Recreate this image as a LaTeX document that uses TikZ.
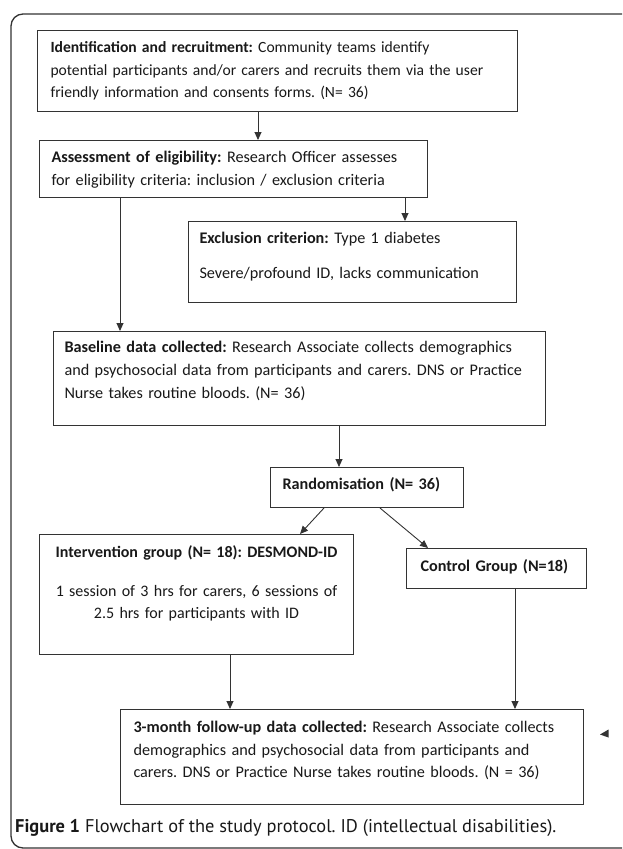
\documentclass[tikz,border=0pt]{standalone}
\usepackage{fontspec}
\setmainfont{Carlito}
\newfontfamily\capfont{PT Sans}
\usetikzlibrary{arrows.meta}
\definecolor{boxline}{gray}{0.2}
\frenchspacing
\begin{document}
\begin{tikzpicture}[x=1pt,y=1pt,
		stage/.style={draw=boxline, line width=1pt, anchor=north west, inner ysep=0pt, align=left, text=black!90, font=\fontsize{16.2}{23}\selectfont},
		flow/.style={draw=boxline, line width=0.9pt, -{Triangle[length=8pt,width=7pt]}}]
		\useasboundingbox (0,0) rectangle (622,-849);
		\fill [white] (0,0) rectangle (622,-849);
		\clip (0,0) rectangle (622,-849);
		\draw [boxline, line width=1.3pt, rounded corners=12pt] (640,-14) -- (11,-14) -- (11,-848) -- (640,-848);
		\node [stage, inner xsep=13pt, text width=454pt, text height=22pt, text depth=59pt, font=\fontsize{15.6}{22.5}\selectfont] (recruit) at (37,-30) {\textbf{Identification and recruitment:} Community teams identify\\potential participants and/or carers and recruits them via the user\\friendly information and consents forms. (N= 36)};
		\node [stage, inner xsep=12pt, text width=364pt, text height=22pt, text depth=35pt] (assess) at (39,-140) {\textbf{Assessment of eligibility:} Research Officer assesses\\for eligibility criteria: inclusion / exclusion criteria};
		\node [stage, inner xsep=11pt, text width=306pt, text height=22pt, text depth=59pt] (exclude) at (188,-221) {\textbf{Exclusion criterion:} Type 1 diabetes\\[12pt]Severe/profound ID, lacks communication};
		\node [stage, inner xsep=11pt, text width=470pt, text height=21pt, text depth=73pt] (baseline) at (53,-331) {\textbf{Baseline data collected:} Research Associate collects demographics\\and psychosocial data from participants and carers. DNS or Practice\\Nurse takes routine bloods. (N= 36)};
		\node [stage, inner xsep=12pt, text width=169pt, text height=22pt, text depth=18pt] (random) at (270,-467) {\mbox{\textbf{Randomisation (N= 36)}}};
		\node [stage, inner xsep=6pt, text width=302pt, text height=23pt, text depth=97pt, align=center, font=\fontsize{16}{22}\selectfont] (interv) at (39,-534) {\textbf{Intervention group (N= 18): DESMOND-ID}\\[17pt]1 session of 3 hrs for carers, 6 sessions of\\2.5 hrs for participants with ID};
		\node [stage, inner xsep=14pt, text width=152pt, text height=23pt, text depth=17pt] (control) at (406,-548) {\mbox{\textbf{Control Group (N=18)}}};
		\node [stage, inner xsep=13pt, text width=437pt, text height=23pt, text depth=72pt, font=\fontsize{16.2}{22.5}\selectfont] (followup) at (120,-709) {\textbf{3-month follow-up data collected:} Research Associate collects\\demographics and psychosocial data from participants and\\carers. DNS or Practice Nurse takes routine bloods. (N = 36)};
		\node [anchor=base west, inner sep=0pt, text=black!90, font=\capfont\fontsize{18.4}{20}\selectfont] (caption) at (15,-832) {\textbf{Figure 1} Flowchart of the study protocol. ID (intellectual disabilities).};
		\draw [flow] ([xshift=221pt]recruit.south west) coordinate (a1) -- (a1 |- assess.north);
		\draw [flow] ([xshift=366pt]assess.south west) coordinate (a2) -- (a2 |- exclude.north);
		\draw [flow] ([xshift=81pt]assess.south west) coordinate (a3) -- (a3 |- baseline.north);
		\draw [flow] ([xshift=286pt]baseline.south west) coordinate (a4) -- (a4 |- random.north);
		\draw [flow] ([xshift=54pt]random.south west) -- ([xshift=261pt]interv.north west);
		\draw [flow] ([xshift=110pt]random.south west) -- ([xshift=22pt]control.north west);
		\draw [flow] ([xshift=191pt]interv.south west) coordinate (a5) -- (a5 |- followup.north);
		\draw [flow] ([xshift=109pt]control.south west) coordinate (a6) -- (a6 |- followup.north);
		\fill [boxline] (600,-734.5) -- (608.5,-729.5) -- (608.5,-737.5) -- cycle;
\end{tikzpicture}
\end{document}
